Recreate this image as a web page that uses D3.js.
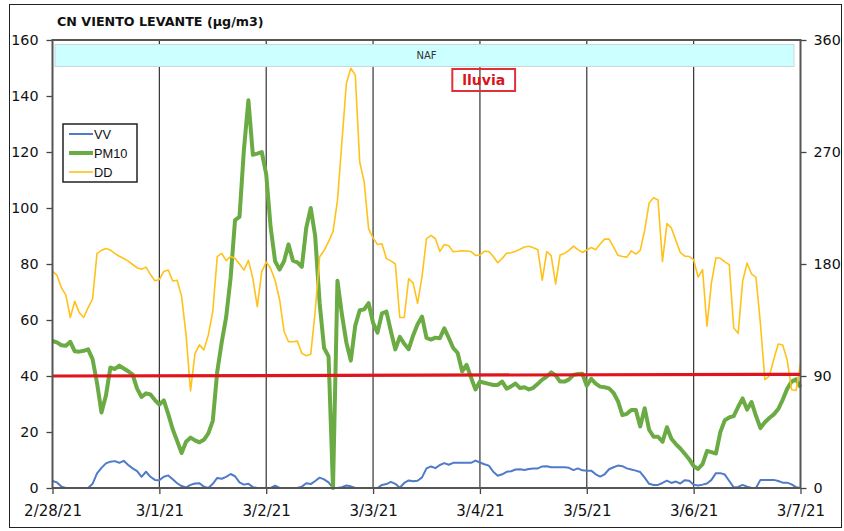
<!DOCTYPE html>
<html><head><meta charset="utf-8">
<script src="https://cdn.jsdelivr.net/npm/d3@7"></script>
<style>body{margin:0;background:#fff}svg{display:block}</style>
</head><body>
<script>
const title = "CN VIENTO LEVANTE (µg/m3)";
const startDate = new Date(2021, 1, 28, 0);
const dayLabels = ["2/28/21","3/1/21","3/2/21","3/3/21","3/4/21","3/5/21","3/6/21","3/7/21"];
const leftTicks = [0,20,40,60,80,100,120,140,160];
const rightTicks = [0,90,180,270,360];
const seriesNames = ["VV","PM10","DD"];
const bandLabel = "NAF";
const rainLabel = "lluvia";
const rainStartHour = 89.8, rainEndHour = 103.9;

// hourly values, 2/28/21 00:00 -> 3/7/21 00:00
const vv = [2.5,2,0.5,0,0,0,0,0,0,1.5,5.2,7.2,8.8,9.4,9.6,9,9.7,8.2,7,6,4,5.8,4,2.9,
  2.8,4,4.5,3.1,1.7,0.7,0.2,1.1,1.6,1.7,0.5,0,1.5,3.6,3.3,4,5,4.2,2,1.2,1.5,0.3,0,0,
  0,0,0.8,0,0,0,0,0,0.5,1.7,1.4,2.5,3.7,3.1,2,0,0,0.3,0.9,0.6,0,0,0,0,
  0,0,1.1,1.4,2.2,1.5,0.1,1.8,2.7,2.4,2.6,3.8,7,7.7,7.1,8.2,8.9,8.3,9,9,9,9,9,9.8,
  9.1,8.5,8,5.8,4.4,4.9,5.8,6,6.6,6.7,6.4,6.8,7,7,7.7,7.8,7.4,7.4,7.4,7.4,7.2,6.4,7,6.3,
  6.2,6.2,4.9,4.1,4.9,6.7,7.4,8,7.8,7,6.6,6.2,5.7,3.7,1.5,1.1,1.1,1.8,2.6,1.8,2.3,1.6,2.8,2.6,
  1.2,0.9,1.2,1.6,2.9,5.3,5.3,4.8,2.5,0.2,0.4,1.1,0.5,0,0,2.9,2.9,2.9,2.9,2.5,1.9,1.9,1.3,0.3,
  0];
const pm10 = [52.5,52,51,50.8,52.2,48.8,48.7,49,49.5,46,37.5,27,33,43,42.5,43.7,42.7,41.7,40.5,35.5,32.5,33.8,33.4,31.4,
  29.8,31.3,26.4,21,16.8,12.5,16.5,18,17,16.3,17.2,19.5,24,41.5,52,61,75,95.7,96.8,121,138.5,119,119.4,120,
  112,93,81,78,81,87,81.2,80.6,79,93,100,90,66,50,47,0,74,62,52,45.5,58,63.5,63.8,66,
  59,55.5,62.4,63,56,49.5,54,51.5,49.6,54.5,58.5,61.2,53.6,53,53.7,53.5,57,53.6,50,48.2,41.7,44,39.5,35.2,
  38,37.6,37.2,36.8,36.8,38,35.5,36.3,37.3,35.7,36,35.2,35.8,37.2,38.7,39.8,41.3,40.2,38,38,38.8,40.4,40.7,40.8,
  36.5,39,37.3,36.2,36,35.6,34,31,26,26.5,27.9,27.9,22,28.5,20.8,18.3,18.3,16.5,21.7,17.6,15.7,14.1,12.2,10.3,
  7.8,6.8,8.5,13.2,12.8,12.3,20,24.2,25.2,25.7,29,32,28,30.7,25.8,21.4,23.5,25,26.3,28.2,31.5,35.4,38,38.8,
  36];
const dd = [174,171,161,155,137,150,141,137,145,152,188.6,191,192.4,191.2,188.5,186.2,184.4,182.3,179.6,177,175.8,177.5,171.5,166.6,
  167.5,174,175.2,166.3,167,154,123,78,108,115,111,123,142,186,188.6,182.7,186,184.5,180,175.1,182.9,168.3,145.7,173.9,
  181.6,176.4,166.7,151.5,126,117.5,117.5,118,108.2,106.3,107.4,142,185.8,190.8,198,206,231,278,325,337.3,332,262,246,208.2,
  201,195.6,196.3,184.3,182.5,180,137,137,168.2,164.6,148.3,170,200.4,203,200.3,190.1,195.7,194.7,189.9,190.2,190.6,190.4,190,186.9,
  187.1,190.3,190,186,181,184.5,188.6,189,190.3,191.8,193.6,194.2,193,191.5,167,189.9,186.8,164,187.2,188.5,191,194.4,191.5,189.3,
  191.3,193.2,191.5,196,200,200,193.8,187,186,185.5,190.6,188,191,207,229,233.2,231.4,182,212.5,209,199,189.3,186.3,186,
  183.5,169.5,175.4,130,165,185,184.6,181.7,179.5,128.5,124.3,166,180.8,172,169.3,132,87,90,103.4,115.7,114.9,103,79,78.3,
  100];
const limitValues = [40, 40.6];

const W = 844, H = 531;
const plot = {l: 52.5, r: 800.5, t: 40, b: 488};
const hourDate = i => new Date(startDate.getTime() + i * 3600e3);
const endDate = hourDate(168);

const svg = d3.select("body").append("svg").attr("width", W).attr("height", H)
  .style("font-family", "'DejaVu Sans', Verdana, sans-serif");

svg.append("rect").attr("x", 9.5).attr("y", 4.5).attr("width", 832).attr("height", 523)
  .attr("fill", "#fff").attr("stroke", "#222").attr("stroke-width", 1);

const x = d3.scaleTime().domain([startDate, endDate]).range([plot.l, plot.r]);
const yL = d3.scaleLinear().domain([0, 160]).range([plot.b, plot.t]);
const yR = d3.scaleLinear().domain([0, 360]).range([plot.b, plot.t]);
const dayDates = d3.range(dayLabels.length).map(d => hourDate(d * 24));

// title
svg.append("text").attr("x", 57).attr("y", 26).attr("font-size", 12.7).attr("font-weight", "bold")
  .attr("fill", "#111").text(title);

// vertical gridlines
svg.append("g").selectAll("line").data(dayDates.slice(1, -1)).join("line")
  .attr("x1", d => x(d)).attr("x2", d => x(d)).attr("y1", plot.t).attr("y2", plot.b)
  .attr("stroke", "#333").attr("stroke-width", 1.2);

// NAF band
svg.append("rect").attr("x", plot.l + 2.5).attr("y", plot.t + 4.5)
  .attr("width", (plot.r - plot.l) - 9).attr("height", 22)
  .attr("fill", "#ccffff").attr("stroke", "#c8d8d8").attr("stroke-width", 1);
svg.append("text").attr("x", (plot.l + plot.r) / 2).attr("y", plot.t + 19)
  .attr("text-anchor", "middle").attr("font-size", 10).attr("fill", "#333").text(bandLabel);

// axes
const axL = svg.append("g").attr("transform", `translate(${plot.l},0)`)
  .call(d3.axisLeft(yL).tickValues(leftTicks).tickSize(6).tickPadding(8).tickFormat(d3.format("d")));
const axR = svg.append("g").attr("transform", `translate(${plot.r},0)`)
  .call(d3.axisRight(yR).tickValues(rightTicks).tickSize(6).tickPadding(7).tickFormat(d3.format("d")));
const axB = svg.append("g").attr("transform", `translate(0,${plot.b})`)
  .call(d3.axisBottom(x).tickValues(dayDates).tickSize(6).tickPadding(8)
    .tickFormat((d, i) => dayLabels[i]));
[axL, axR, axB].forEach(a => {
  a.selectAll("path.domain").remove();
  a.selectAll(".tick line").attr("stroke", "#444").attr("stroke-width", 1.3);
  a.selectAll("text").attr("font-size", 14.3).attr("fill", "#111")
    .style("font-family", "'DejaVu Sans', Verdana, sans-serif");
});
axB.selectAll("text").attr("font-size", 15).attr("dy", "0.9em");

// series
const lineL = d3.line().x((d, i) => x(hourDate(i))).y(d => yL(d));
const lineR = d3.line().x((d, i) => x(hourDate(i))).y(d => yR(d));
svg.append("path").datum(vv).attr("d", lineL).attr("fill", "none")
  .attr("stroke", "#4f7bc8").attr("stroke-width", 2).attr("stroke-linejoin", "round");
svg.append("path").datum(pm10).attr("d", lineL).attr("fill", "none")
  .attr("stroke", "#6aab44").attr("stroke-width", 4).attr("stroke-linejoin", "round");
svg.append("path").datum(dd).attr("d", lineR).attr("fill", "none")
  .attr("stroke", "#ffc21a").attr("stroke-width", 1.6).attr("stroke-linejoin", "round");

// limit line
svg.append("line").attr("x1", x(startDate)).attr("x2", x(endDate))
  .attr("y1", yL(limitValues[0])).attr("y2", yL(limitValues[1]))
  .attr("stroke", "#e0141c").attr("stroke-width", 3.2);

// plot frame
svg.append("rect").attr("x", plot.l).attr("y", plot.t).attr("width", plot.r - plot.l).attr("height", plot.b - plot.t)
  .attr("fill", "none").attr("stroke", "#555").attr("stroke-width", 2);

// rain annotation
const rx0 = x(hourDate(rainStartHour)), rx1 = x(hourDate(rainEndHour));
svg.append("rect").attr("x", rx0).attr("y", 69).attr("width", rx1 - rx0).attr("height", 22)
  .attr("fill", "none").attr("stroke", "#e03038").attr("stroke-width", 2);
svg.append("text").attr("x", (rx0 + rx1) / 2).attr("y", 85).attr("text-anchor", "middle")
  .attr("font-size", 14).attr("font-weight", "bold").attr("fill", "#d8141c").text(rainLabel);

// legend
const lg = svg.append("g");
lg.append("rect").attr("x", 63).attr("y", 124).attr("width", 74).attr("height", 58)
  .attr("fill", "#fff").attr("stroke", "#222").attr("stroke-width", 1.5);
const legColors = ["#4f7bc8", "#6aab44", "#ffc21a"];
const legWidths = [2, 4, 1.6];
seriesNames.forEach((n, i) => {
  const yy = 134 + i * 19;
  lg.append("line").attr("x1", 69).attr("x2", 93).attr("y1", yy).attr("y2", yy)
    .attr("stroke", legColors[i]).attr("stroke-width", legWidths[i]);
  lg.append("text").attr("x", 94).attr("y", yy + 4.5).attr("font-size", 12.8)
    .style("font-family", "'Liberation Sans', Arial, sans-serif").attr("fill", "#111").text(n);
});
</script>
</body></html>
